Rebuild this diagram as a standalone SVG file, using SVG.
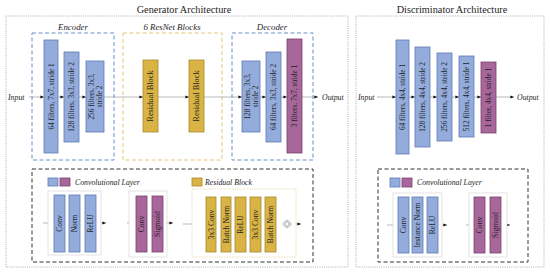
<svg xmlns="http://www.w3.org/2000/svg" width="550" height="274" viewBox="0 0 550 274">
<defs>
<marker id="ah" markerWidth="4" markerHeight="4" refX="3.6" refY="2" orient="auto" markerUnits="userSpaceOnUse">
<path d="M0,0.4 L3.6,2 L0,3.6 Z" fill="#111"/>
</marker>
</defs>
<style>
text{font-family:"Liberation Serif","Times New Roman",serif;fill:#1e1e1e}
.title{font-size:10.3px}
.lab{font-size:8.8px;font-style:italic}
.io{font-size:7.8px;font-style:italic}
.bt{font-size:7.3px;text-anchor:middle;dominant-baseline:central}
.rt{font-size:7.6px;text-anchor:middle;dominant-baseline:central}
.rb{font-size:8.4px;text-anchor:middle;dominant-baseline:central}
.blue{fill:#94acdc;stroke:#5c7ab6;stroke-width:0.8}
.purp{fill:#a8679a;stroke:#7b4070;stroke-width:0.8}
.yel{fill:#d9b445;stroke:#a88a2c;stroke-width:0.8}
.outer{fill:none;stroke:#9a9a9a;stroke-width:0.8;stroke-dasharray:1,1.2}
.dblue{fill:none;stroke:#6b8fc6;stroke-width:1;stroke-dasharray:4,2.5}
.dyel{fill:none;stroke:#e3c978;stroke-width:1;stroke-dasharray:4,2.5}
.dblk{fill:none;stroke:#333;stroke-width:1;stroke-dasharray:4,2.5}
.grp{fill:#fff;stroke:#dcdcdc;stroke-width:0.8}
.grpy{fill:#fff;stroke:#e8d9a6;stroke-width:0.8;stroke-dasharray:1.5,1}
.ln{stroke:#8a8a8a;stroke-width:0.6;fill:none}
</style>
<rect width="550" height="274" fill="#fff"/>

<!-- frames -->
<g id="generator-frame">
<text class="title" x="184" y="13" text-anchor="middle">Generator Architecture</text>
<rect class="outer" x="6" y="16" width="342" height="251"/>
</g>
<g id="discriminator-frame">
<text class="title" x="452" y="13" text-anchor="middle">Discriminator Architecture</text>
<rect class="outer" x="356" y="16" width="188" height="251"/>
</g>

<g id="encoder">
<rect class="dblue" x="32" y="33" width="82" height="127"/>
<text class="lab" x="73" y="30" text-anchor="middle">Encoder</text>
</g>
<g id="resnet">
<rect class="dyel" x="123" y="33" width="99" height="127"/>
<text class="lab" x="172" y="30" text-anchor="middle">6 ResNet Blocks</text>
</g>
<g id="decoder">
<rect class="dblue" x="232" y="33" width="81" height="127"/>
<text class="lab" x="272" y="30" text-anchor="middle">Decoder</text>
</g>

<!-- connectors -->
<g id="connectors">
<line class="ln" x1="29" y1="97" x2="44" y2="97" marker-end="url(#ah)"/>
<line class="ln" x1="58" y1="97" x2="64" y2="97" marker-end="url(#ah)"/>
<line class="ln" x1="79" y1="97" x2="86" y2="97" marker-end="url(#ah)"/>
<line class="ln" x1="104" y1="97" x2="143" y2="97" marker-end="url(#ah)"/>
<line class="ln" x1="158" y1="97" x2="189" y2="97" marker-end="url(#ah)"/>
<line class="ln" x1="204" y1="97" x2="242" y2="97" marker-end="url(#ah)"/>
<line class="ln" x1="260" y1="97" x2="266" y2="97" marker-end="url(#ah)"/>
<line class="ln" x1="281" y1="97" x2="287" y2="97" marker-end="url(#ah)"/>
<line class="ln" x1="302" y1="97" x2="318" y2="97" marker-end="url(#ah)"/>

<line class="ln" x1="377" y1="97" x2="396" y2="97" marker-end="url(#ah)"/>
<line class="ln" x1="409" y1="97" x2="415" y2="97" marker-end="url(#ah)"/>
<line class="ln" x1="430" y1="97" x2="437" y2="97" marker-end="url(#ah)"/>
<line class="ln" x1="452" y1="97" x2="459" y2="97" marker-end="url(#ah)"/>
<line class="ln" x1="474" y1="97" x2="481" y2="97" marker-end="url(#ah)"/>
<line class="ln" x1="496" y1="97" x2="514" y2="97" marker-end="url(#ah)"/>

<line class="ln" x1="43" y1="223" x2="54" y2="223" marker-end="url(#ah)"/>
<line class="ln" x1="65" y1="223" x2="69" y2="223" marker-end="url(#ah)"/>
<line class="ln" x1="80" y1="223" x2="85" y2="223" marker-end="url(#ah)"/>
<line class="ln" x1="96" y1="223" x2="106" y2="223" marker-end="url(#ah)"/>
<line class="ln" x1="127" y1="223" x2="136" y2="223" marker-end="url(#ah)"/>
<line class="ln" x1="147" y1="223" x2="152" y2="223" marker-end="url(#ah)"/>
<line class="ln" x1="163" y1="223" x2="173" y2="223" marker-end="url(#ah)"/>

<line class="ln" x1="183" y1="224" x2="206" y2="224" marker-end="url(#ah)"/>
<line class="ln" x1="216" y1="224" x2="221" y2="224" marker-end="url(#ah)"/>
<line class="ln" x1="231" y1="224" x2="235" y2="224" marker-end="url(#ah)"/>
<line class="ln" x1="246" y1="224" x2="250" y2="224" marker-end="url(#ah)"/>
<line class="ln" x1="261" y1="224" x2="265" y2="224" marker-end="url(#ah)"/>
<line class="ln" x1="276" y1="224" x2="283" y2="224" marker-end="url(#ah)"/>
<line class="ln" x1="291" y1="224" x2="301" y2="224" marker-end="url(#ah)"/>
<path class="ln" d="M195,224 V193 H287 V220" marker-end="url(#ah)"/>

<line class="ln" x1="387" y1="225" x2="398" y2="225" marker-end="url(#ah)"/>
<line class="ln" x1="409" y1="225" x2="412" y2="225" marker-end="url(#ah)"/>
<line class="ln" x1="423" y1="225" x2="427" y2="225" marker-end="url(#ah)"/>
<line class="ln" x1="438" y1="225" x2="447" y2="225" marker-end="url(#ah)"/>
<line class="ln" x1="466" y1="225" x2="474" y2="225" marker-end="url(#ah)"/>
<line class="ln" x1="485" y1="225" x2="490" y2="225" marker-end="url(#ah)"/>
<line class="ln" x1="501" y1="225" x2="510" y2="225" marker-end="url(#ah)"/>
</g>

<g id="gen-input"><text class="io" x="8" y="100">Input</text></g>
<g id="gen-output"><text class="io" x="322" y="100">Output</text></g>

<g id="enc1"><rect class="blue" x="44" y="40" width="14" height="113"/><text class="bt" transform="translate(51,96.5) rotate(-90)">64 filters, 7x7, stride 1</text></g>
<g id="enc2"><rect class="blue" x="64" y="52" width="15" height="90"/><text class="bt" transform="translate(71.5,97) rotate(-90)">128 filters, 3x3, stride 2</text></g>
<g id="enc3"><rect class="blue" x="86" y="61" width="18" height="71"/><text class="bt" transform="translate(95,96.5) rotate(-90)"><tspan x="0" dy="-3.8">256 filters, 3x3,</tspan><tspan x="0" dy="7.6">stride 2</tspan></text></g>

<g id="res1"><rect class="yel" x="143" y="60" width="15" height="72"/><text class="rb" transform="translate(150.5,96) rotate(-90)">Residual Block</text></g>
<g id="res2"><rect class="yel" x="189" y="60" width="15" height="72"/><text class="rb" transform="translate(196.5,96) rotate(-90)">Residual Block</text></g>

<g id="dec1"><rect class="blue" x="242" y="61" width="18" height="71"/><text class="bt" transform="translate(251,96.5) rotate(-90)"><tspan x="0" dy="-3.8">128 filters, 3x3,</tspan><tspan x="0" dy="7.6">stride 2</tspan></text></g>
<g id="dec2"><rect class="blue" x="266" y="52" width="15" height="90"/><text class="bt" transform="translate(273.5,97) rotate(-90)">64 filters, 3x3, stride 2</text></g>
<g id="dec3"><rect class="purp" x="287" y="39" width="15" height="114"/><text class="bt" transform="translate(294.5,96) rotate(-90)">3 filters, 7x7, stride 1</text></g>

<g id="disc-input"><text class="io" x="358" y="100">Input</text></g>
<g id="disc-output"><text class="io" x="517" y="100">Output</text></g>
<g id="d1"><rect class="blue" x="396" y="40" width="13" height="114"/><text class="bt" transform="translate(402.5,97) rotate(-90)">64 filters, 4x4, stride 1</text></g>
<g id="d2"><rect class="blue" x="415" y="47" width="15" height="100"/><text class="bt" transform="translate(422.5,97) rotate(-90)">128 filters, 4x4, stride 2</text></g>
<g id="d3"><rect class="blue" x="437" y="53" width="15" height="88"/><text class="bt" transform="translate(444.5,97) rotate(-90)">256 filters, 4x4, stride 2</text></g>
<g id="d4"><rect class="blue" x="459" y="56" width="15" height="81"/><text class="bt" transform="translate(466.5,96.5) rotate(-90)">512 filters, 4x4, stride 1</text></g>
<g id="d5"><rect class="purp" x="481" y="62" width="15" height="71"/><text class="bt" transform="translate(488.5,97.5) rotate(-90)">1 filter, 4x4, stride 1</text></g>

<g id="gen-legend">
<rect class="dblk" x="32" y="169" width="281" height="93"/>
<rect class="blue" x="48" y="178" width="10" height="8"/>
<rect class="purp" x="60" y="178" width="10" height="8"/>
<text class="io" x="75" y="185">Convolutional Layer</text>
<rect class="yel" x="192" y="178" width="10" height="8"/>
<text class="io" x="205" y="185">Residual Block</text>
</g>
<g id="gen-conv-group">
<rect class="grp" x="48" y="191" width="53" height="64"/>
<rect class="blue" x="54" y="195" width="11" height="57"/><text class="rt" transform="translate(59.5,223.5) rotate(-90)">Conv</text>
<rect class="blue" x="69" y="195" width="11" height="57"/><text class="rt" transform="translate(74.5,223.5) rotate(-90)">Norm</text>
<rect class="blue" x="85" y="195" width="11" height="57"/><text class="rt" transform="translate(90.5,223.5) rotate(-90)">ReLU</text>
</g>
<g id="gen-out-group">
<rect class="grp" x="129" y="191" width="38" height="66"/>
<rect class="purp" x="136" y="196" width="11" height="56"/><text class="rt" transform="translate(141.5,224) rotate(-90)">Conv</text>
<rect class="purp" x="152" y="196" width="11" height="56"/><text class="rt" transform="translate(157.5,224) rotate(-90)">Sigmoid</text>
</g>
<g id="res-group">
<rect class="grpy" x="192" y="189" width="104" height="68"/>
<rect class="yel" x="206" y="197" width="10" height="55"/><text class="rt" transform="translate(211,224.5) rotate(-90)">3x3 Conv</text>
<rect class="yel" x="221" y="197" width="10" height="55"/><text class="rt" transform="translate(226,224.5) rotate(-90)">Batch Norm</text>
<rect class="yel" x="235" y="197" width="11" height="55"/><text class="rt" transform="translate(240.5,224.5) rotate(-90)">ReLU</text>
<rect class="yel" x="250" y="197" width="11" height="55"/><text class="rt" transform="translate(255.5,224.5) rotate(-90)">3x3 Conv</text>
<rect class="yel" x="265" y="197" width="11" height="55"/><text class="rt" transform="translate(270.5,224.5) rotate(-90)">Batch Norm</text>
<circle cx="287" cy="224" r="4" fill="#fff" stroke="#9a9a9a" stroke-width="0.6" stroke-dasharray="1,0.8"/>
<path d="M286,221 h2 v2 h2 v2 h-2 v2 h-2 v-2 h-2 v-2 h2 z" fill="#fff" stroke="#666" stroke-width="0.5"/>
</g>

<g id="disc-legend">
<rect class="dblk" x="378" y="169" width="150" height="93"/>
<rect class="blue" x="390" y="178" width="10" height="9"/>
<rect class="purp" x="402" y="178" width="10" height="9"/>
<text class="io" x="417" y="185">Convolutional Layer</text>
</g>
<g id="disc-conv-group">
<rect class="grp" x="393" y="193" width="49" height="64"/>
<rect class="blue" x="398" y="197" width="11" height="56"/><text class="rt" transform="translate(403.5,225) rotate(-90)">Conv</text>
<rect class="blue" x="412" y="197" width="11" height="56"/><text class="rt" transform="translate(417.5,225) rotate(-90)">Instance Norm</text>
<rect class="blue" x="427" y="197" width="11" height="56"/><text class="rt" transform="translate(432.5,225) rotate(-90)">ReLU</text>
</g>
<g id="disc-out-group">
<rect class="grp" x="469" y="193" width="38" height="64"/>
<rect class="purp" x="474" y="197" width="11" height="56"/><text class="rt" transform="translate(479.5,225) rotate(-90)">Conv</text>
<rect class="purp" x="490" y="197" width="11" height="56"/><text class="rt" transform="translate(495.5,225) rotate(-90)">Sigmoid</text>
</g>
</svg>
